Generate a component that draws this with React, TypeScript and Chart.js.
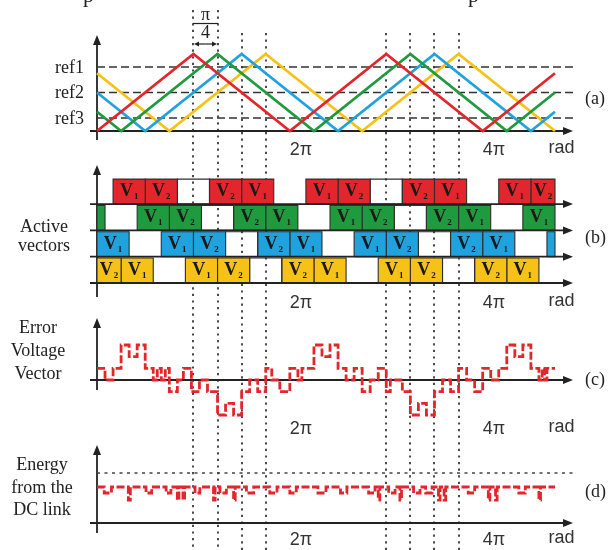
import React, { useEffect, useRef } from 'react';
import { Chart, registerables } from 'chart.js';

Chart.register(...registerables);

const W = 608;
const H = 550;
const SERIF = '"Liberation Serif", "Times New Roman", serif';
const SANS = '"Liberation Sans", Arial, sans-serif';
const INK = '#222222';

// ---------------- data (x values are in units of π/12 rad) ----------------
const tickValues = [24, 48];
const tickLabels = ['2π', '4π'];
const unitLabel = 'rad';
const unitLabelAt = 56.2;
const markerLines = [12, 15, 18, 21, 36, 39, 42, 45];
const piQuarterSpan = [12, 15];

const redCarrier = [[0, 0], [12, 1], [24, 0], [36, 1], [48, 0], [57, 0.75]];
const greenCarrier = [[0, 0.25], [3, 0], [15, 1], [27, 0], [39, 1], [51, 0], [57, 0.5]];
const blueCarrier = [[0, 0.5], [6, 0], [18, 1], [30, 0], [42, 1], [54, 0], [57, 0.25]];
const yellowCarrier = [[0, 0.75], [9, 0], [21, 1], [33, 0], [45, 1], [57, 0]];

const refLabels = ['ref1', 'ref2', 'ref3'];
const refValues = [0.83, 0.5, 0.17];

// active vectors: [start, end, state]  (Z = zero vector, drawn empty)
const redRow = [[2, 6, 'V1'], [6, 10, 'V2'], [10, 14, 'Z'], [14, 18, 'V2'], [18, 22, 'V1'], [26, 30, 'V1'], [30, 34, 'V2'], [34, 38, 'Z'], [38, 42, 'V2'], [42, 46, 'V1'], [50, 54, 'V1'], [54, 57, 'V2']];
const greenRow = [[0, 1, 'V1'], [5, 9, 'V1'], [9, 13, 'V2'], [13, 17, 'Z'], [17, 21, 'V2'], [21, 25, 'V1'], [29, 33, 'V1'], [33, 37, 'V2'], [37, 41, 'Z'], [41, 45, 'V2'], [45, 49, 'V1'], [53, 57, 'V1']];
const blueRow = [[0, 4, 'V1'], [8, 12, 'V1'], [12, 16, 'V2'], [16, 20, 'Z'], [20, 24, 'V2'], [24, 28, 'V1'], [32, 36, 'V1'], [36, 40, 'V2'], [40, 44, 'Z'], [44, 48, 'V2'], [48, 52, 'V1'], [56, 57, 'V1']];
const yellowRow = [[0, 3, 'V2'], [3, 7, 'V1'], [11, 15, 'V1'], [15, 19, 'V2'], [19, 23, 'Z'], [23, 27, 'V2'], [27, 31, 'V1'], [35, 39, 'V1'], [39, 43, 'V2'], [43, 47, 'Z'], [47, 51, 'V2'], [51, 55, 'V1']];
const rowLevels = [3, 2, 1, 0]; // red, green, blue, yellow
const boxHeight = 0.95;

const errorTimes = [0, 1, 2, 3, 4, 5, 6, 7, 7.5, 8, 8.5, 9, 10, 10.75, 11.75, 12.75, 13.75, 15, 16, 17, 18, 19, 20, 21, 21.75, 22.75, 24, 25, 25.5, 27, 28, 29, 30, 31, 32, 33, 34, 35, 36, 36.5, 38, 39, 40, 41, 42, 43, 44, 45, 46, 47, 48, 49, 50, 51, 52, 53, 54, 55, 55.4, 55.7, 56, 57];
const errorLevels = [1, 0, 1, 3, 2, 3, 1, 0, 1, 0, 1, -1, 0, 1, -1, 0, -1, -3, -2, -3, -1, 0, -1, 1, 0, -1, 1, 0, 1, 3, 2, 3, 1, 0, 1, -1, 0, 1, -1, 0, -1, -3, -2, -3, -1, 0, -1, 1, 0, -1, 1, 0, 1, 3, 2, 3, 1, 0, 1, 0, 1, 1];

const energyTimes = [0, 0.9, 1.8, 3.9, 4.15, 6.1, 6.8, 8.6, 9.2, 10.0, 10.2, 10.7, 10.9, 12.2, 12.8, 14.5, 14.7, 15.3, 16.1, 17.0, 17.2, 18.6, 19.5, 21.5, 22.4, 24.0, 24.8, 27.5, 28.5, 30.3, 31.1, 33.8, 34.6, 35.0, 35.2, 36.3, 37.1, 37.7, 37.9, 39.4, 40.2, 40.9, 41.7, 42.5, 42.7, 43.2, 43.4, 46.2, 47.0, 48.7, 48.9, 49.6, 49.8, 52.5, 53.3, 55.0, 55.2, 57];
const energyLevels = [0.72, 0.6, 0.72, 0.46, 0.72, 0.6, 0.72, 0.6, 0.72, 0.46, 0.72, 0.46, 0.72, 0.6, 0.72, 0.46, 0.72, 0.6, 0.72, 0.46, 0.72, 0.6, 0.72, 0.6, 0.72, 0.6, 0.72, 0.6, 0.72, 0.6, 0.72, 0.6, 0.72, 0.46, 0.72, 0.6, 0.72, 0.46, 0.72, 0.6, 0.72, 0.6, 0.72, 0.46, 0.72, 0.46, 0.72, 0.6, 0.72, 0.46, 0.72, 0.46, 0.72, 0.6, 0.72, 0.46, 0.72, 0.72];
const energyLimit = 1;

// ---------------- styling / layout ----------------
const COLORS = { red: '#e2262b', green: '#1f9a3e', blue: '#1fa2de', yellow: '#f6c217' };
const X_ZERO_PX = 97;
const X_UNIT_PX = 8.035;
const AXIS_LEFT_PX = 90;
const AXIS_RIGHT_PX = 573;
const PANELS = {
  ya: { base: 131, unit: 77, top: 35, bottom: 140, tickY: 150, tagY: 99, tag: '(a)' },
  yb: { base: 283, unit: 26.3, top: 165, bottom: 297, tickY: 303, tagY: 238, tag: '(b)' },
  yc: { base: 380, unit: 11.67, top: 318, bottom: 390, tickY: 429, tagY: 380, tag: '(c)' },
  yd: { base: 523, unit: 50, top: 445, bottom: 533, tickY: 540, tagY: 492, tag: '(d)' },
};
const SIDE_LABELS = [
  { lines: ['Active', 'vectors'], x: 44, baselines: [232, 251] },
  { lines: ['Error', 'Voltage', 'Vector'], x: 38, baselines: [333, 356, 379] },
  { lines: ['Energy', 'from the', 'DC link'], x: 42, baselines: [470, 493, 515] },
];

const xEnd = (AXIS_RIGHT_PX - X_ZERO_PX) / X_UNIT_PX;

function arrowLine(ctx, x1, y1, x2, y2, len = 10, half = 4) {
  const a = Math.atan2(y2 - y1, x2 - x1);
  const bx = x2 - len * Math.cos(a);
  const by = y2 - len * Math.sin(a);
  ctx.beginPath();
  ctx.moveTo(x1, y1);
  ctx.lineTo(bx, by);
  ctx.stroke();
  ctx.beginPath();
  ctx.moveTo(x2, y2);
  ctx.lineTo(bx - half * Math.sin(a), by + half * Math.cos(a));
  ctx.lineTo(bx + half * Math.sin(a), by - half * Math.cos(a));
  ctx.closePath();
  ctx.fill();
}

const rows = [
  { segs: redRow, color: COLORS.red, level: rowLevels[0] },
  { segs: greenRow, color: COLORS.green, level: rowLevels[1] },
  { segs: blueRow, color: COLORS.blue, level: rowLevels[2] },
  { segs: yellowRow, color: COLORS.yellow, level: rowLevels[3] },
];

const decor = {
  id: 'decor',
  beforeDraw(chart) {
    const ctx = chart.ctx;
    ctx.save();
    ctx.fillStyle = '#ffffff';
    ctx.fillRect(0, 0, W, H);
    ctx.restore();
  },
  beforeDatasetsDraw(chart) {
    const ctx = chart.ctx;
    const xs = chart.scales.x;
    // dotted markers
    ctx.save();
    ctx.strokeStyle = '#4a4a4a';
    ctx.lineWidth = 2;
    ctx.setLineDash([2.2, 4.4]);
    markerLines.forEach((k) => {
      const x = Math.round(xs.getPixelForValue(k));
      const top = piQuarterSpan.includes(k) ? 10 : 33;
      ctx.beginPath();
      ctx.moveTo(x, top);
      ctx.lineTo(x, H);
      ctx.stroke();
    });
    ctx.restore();

    // axes
    ctx.save();
    ctx.strokeStyle = INK;
    ctx.fillStyle = INK;
    ctx.lineWidth = 1.8;
    const x0 = xs.getPixelForValue(0);
    Object.keys(PANELS).forEach((id) => {
      const p = PANELS[id];
      arrowLine(ctx, x0, p.bottom, x0, p.top);
      if (id !== 'yb') {
        const y = chart.scales[id].getPixelForValue(0);
        arrowLine(ctx, AXIS_LEFT_PX, y, AXIS_RIGHT_PX, y);
      }
    });
    ctx.restore();
  },
  afterDatasetsDraw(chart) {
    const ctx = chart.ctx;
    const xs = chart.scales.x;
    const yb = chart.scales.yb;
    ctx.save();
    // row axes of panel (b)
    ctx.strokeStyle = INK;
    ctx.fillStyle = INK;
    ctx.lineWidth = 1.8;
    rowLevels.forEach((lv) => {
      const y = yb.getPixelForValue(lv);
      arrowLine(ctx, AXIS_LEFT_PX, y, AXIS_RIGHT_PX, y);
    });

    // V labels
    ctx.fillStyle = '#1a1a1a';
    ctx.textBaseline = 'alphabetic';
    ctx.textAlign = 'left';
    rows.forEach((row) => {
      row.segs.forEach(([s, e, st]) => {
        if (st === 'Z' || e - s < 3) return;
        const sub = st.slice(1);
        const cx = xs.getPixelForValue((s + e) / 2);
        const by = yb.getPixelForValue(row.level);
        ctx.font = `bold 18px ${SERIF}`;
        const wv = ctx.measureText('V').width;
        ctx.font = `bold 9px ${SERIF}`;
        const ws = ctx.measureText(sub).width;
        const sx = cx - (wv + ws + 1) / 2;
        ctx.font = `bold 18px ${SERIF}`;
        ctx.fillText('V', sx, by - 8);
        ctx.font = `bold 9px ${SERIF}`;
        ctx.fillText(sub, sx + wv + 1, by - 5);
      });
    });

    // ref labels
    ctx.fillStyle = INK;
    ctx.font = `18px ${SERIF}`;
    ctx.textAlign = 'right';
    ctx.textBaseline = 'middle';
    refLabels.forEach((lab, i) => {
      ctx.fillText(lab, 84, chart.scales.ya.getPixelForValue(refValues[i]) + 1);
    });

    // side labels
    ctx.textAlign = 'center';
    ctx.textBaseline = 'alphabetic';
    SIDE_LABELS.forEach((g) => {
      g.lines.forEach((t, i) => ctx.fillText(t, g.x, g.baselines[i]));
    });

    // panel tags
    ctx.textAlign = 'left';
    ctx.textBaseline = 'middle';
    Object.keys(PANELS).forEach((id) => {
      ctx.fillText(PANELS[id].tag, 585, PANELS[id].tagY);
    });

    // tick labels
    ctx.font = `18px ${SANS}`;
    ctx.fillStyle = '#333';
    Object.keys(PANELS).forEach((id) => {
      const y = PANELS[id].tickY;
      tickValues.forEach((v, i) => ctx.fillText(tickLabels[i], xs.getPixelForValue(v), y));
      ctx.fillText(unitLabel, xs.getPixelForValue(unitLabelAt), y - 2);
    });

    // π/4 annotation
    const xa = Math.round(xs.getPixelForValue(piQuarterSpan[0]));
    const xb = Math.round(xs.getPixelForValue(piQuarterSpan[1]));
    ctx.fillStyle = INK;
    ctx.strokeStyle = INK;
    ctx.textAlign = 'center';
    ctx.font = `18px ${SERIF}`;
    ctx.fillText('π', (xa + xb) / 2, 15);
    ctx.fillText('4', (xa + xb) / 2, 33);
    ctx.lineWidth = 1.2;
    ctx.beginPath();
    ctx.moveTo(xa, 23.5);
    ctx.lineTo(xb, 23.5);
    ctx.stroke();
    arrowLine(ctx, (xa + xb) / 2, 44, xb - 1, 44, 5, 2.5);
    arrowLine(ctx, (xa + xb) / 2, 44, xa + 1, 44, 5, 2.5);

    // cut-off text of the line above
    ctx.font = `22px ${SERIF}`;
    ctx.textBaseline = 'alphabetic';
    ctx.textAlign = 'left';
    ctx.fillText('p', 83, 2);
    ctx.fillText('p', 468, 2);
    ctx.restore();
  },
};

function pts(arr) {
  return arr.map(([x, y]) => ({ x, y }));
}

function buildConfig() {
  const base = { pointRadius: 0, pointHoverRadius: 0, tension: 0, xAxisID: 'x' };
  const datasets = [];

  // panel (a): carriers
  const carriers = [
    { data: redCarrier, color: COLORS.red },
    { data: greenCarrier, color: COLORS.green },
    { data: blueCarrier, color: COLORS.blue },
    { data: yellowCarrier, color: COLORS.yellow },
  ];
  carriers.forEach((c) => {
    datasets.push({
      ...base, type: 'line', yAxisID: 'ya', data: pts(c.data),
      borderColor: c.color, borderWidth: 2.8, fill: false, order: 4,
    });
  });
  refValues.forEach((r) => {
    datasets.push({
      ...base, type: 'line', yAxisID: 'ya', data: pts([[0, r], [xEnd, r]]),
      borderColor: '#333', borderWidth: 1.5, borderDash: [8, 4], fill: false, order: 6,
    });
  });

  // panel (b): active vector boxes
  rows.forEach((row) => {
    row.segs.forEach(([s, e, st]) => {
      const b = row.level;
      const t = row.level + boxHeight;
      datasets.push({
        ...base, type: 'line', yAxisID: 'yb',
        data: pts([[s, b], [s, t], [e, t], [e, b], [s, b]]),
        borderColor: '#2e2e2e', borderWidth: 1.1, borderJoinStyle: 'miter',
        backgroundColor: st === 'Z' ? 'rgba(0,0,0,0)' : row.color,
        fill: 'shape', order: 3,
      });
    });
  });

  // panel (c): error voltage vector
  datasets.push({
    ...base, type: 'line', yAxisID: 'yc',
    data: errorTimes.map((x, i) => ({ x, y: errorLevels[i] })),
    stepped: 'before', borderColor: COLORS.red, borderWidth: 2.8,
    borderDash: [8, 2.5], fill: false, order: 1,
  });

  // panel (d): energy from the DC link
  datasets.push({
    ...base, type: 'line', yAxisID: 'yd',
    data: pts([[0, energyLimit], [xEnd, energyLimit]]),
    borderColor: '#444', borderWidth: 1.5, borderDash: [3, 4.5], fill: false, order: 2,
  });
  datasets.push({
    ...base, type: 'line', yAxisID: 'yd',
    data: energyTimes.map((x, i) => ({ x, y: energyLevels[i] })),
    stepped: 'before', borderColor: COLORS.red, borderWidth: 2.8,
    borderDash: [8, 2.5], fill: false, order: 1,
  });

  const scales = {
    x: {
      type: 'linear', display: false, bounds: 'data',
      min: -X_ZERO_PX / X_UNIT_PX, max: (W - X_ZERO_PX) / X_UNIT_PX,
    },
  };
  Object.keys(PANELS).forEach((id) => {
    const p = PANELS[id];
    scales[id] = {
      type: 'linear', display: false, bounds: 'data',
      min: (p.base - H) / p.unit, max: p.base / p.unit,
    };
  });

  return {
    type: 'line',
    data: { datasets },
    options: {
      responsive: false,
      maintainAspectRatio: false,
      animation: false,
      devicePixelRatio: 1,
      events: [],
      layout: { padding: 0 },
      plugins: { legend: { display: false }, tooltip: { enabled: false }, title: { display: false } },
      scales,
    },
    plugins: [decor],
  };
}

export default function App() {
  const ref = useRef(null);
  useEffect(() => {
    const chart = new Chart(ref.current, buildConfig());
    return () => chart.destroy();
  }, []);
  return (
    <div style={{ position: 'absolute', left: 0, top: 0, width: W, height: H, background: '#fff' }}>
      <canvas ref={ref} width={W} height={H} style={{ width: W, height: H, display: 'block' }} />
    </div>
  );
}
